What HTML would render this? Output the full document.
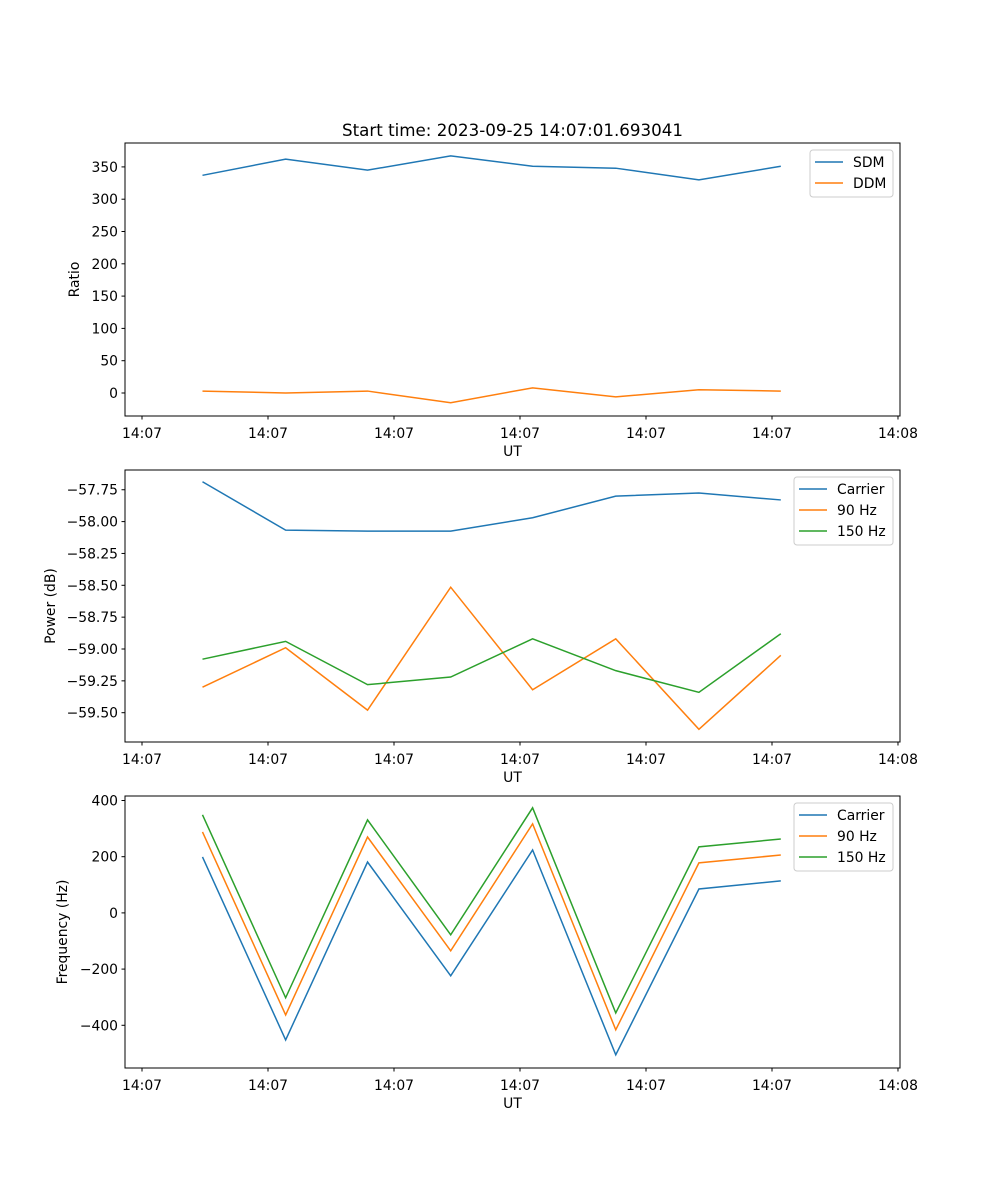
<!DOCTYPE html>
<html><head><meta charset="utf-8"><style>
body{margin:0;background:#fff}
svg{display:block;font-family:"DejaVu Sans","Liberation Sans",sans-serif}
</style></head><body>
<svg id="fig" width="1000" height="1200" viewBox="0 0 1000 1200"></svg>
<script>
const times = [4.8, 11.4, 17.9, 24.5, 31.0, 37.6, 44.2, 50.7];
const xTickVals = [0, 10, 20, 30, 40, 50, 60];
const xTickLabels = ["14:07","14:07","14:07","14:07","14:07","14:07","14:08"];
const sdm = [337, 362, 345, 367, 351, 348, 330, 351];
const ddm = [3, 0, 3, -15, 8, -6, 5, 3];
const ratioTicks = [0, 50, 100, 150, 200, 250, 300, 350];
const pwrCarrier = [-57.687, -58.067, -58.075, -58.075, -57.97, -57.80, -57.776, -57.83];
const pwr90 = [-59.30, -58.99, -59.48, -58.515, -59.32, -58.92, -59.63, -59.05];
const pwr150 = [-59.08, -58.94, -59.28, -59.22, -58.92, -59.17, -59.34, -58.88];
const pwrTicks = [-57.75, -58.00, -58.25, -58.50, -58.75, -59.00, -59.25, -59.50];
const frqCarrier = [199, -452, 181, -224, 224, -505, 85, 114];
const frq90 = [288, -363, 270, -135, 317, -416, 178, 206];
const frq150 = [349, -302, 331, -78, 374, -356, 235, 263];
const frqTicks = [400, 200, 0, -200, -400];

const NS = "http://www.w3.org/2000/svg";
const svg = document.getElementById('fig');
function mk(tag, attrs, parent){const e=document.createElementNS(NS,tag);for(const k in attrs)e.setAttribute(k,attrs[k]);(parent||svg).appendChild(e);return e;}
const C=['#1f77b4','#ff7f0e','#2ca02c'];
const L=125,R=900,xmin=-1.35,xmax=60.16;
const FS=13.9;
const xs=v=>L+(v-xmin)/(xmax-xmin)*(R-L);

function panel(name,top,bot,ymin,ymax,ticks,fmt,ylabel,ylabX,series,legend){
  const g=mk('g',{});
  
  
  const ys=v=>bot-(v-ymin)/(ymax-ymin)*(bot-top);
  series.forEach((s,i)=>{
    const p=mk('polyline',{points:times.map((t,j)=>xs(t)+','+ys(s.d[j])).join(' '),fill:'none',stroke:C[i],'stroke-width':1.5},g);
    
    
  });
  const fr=mk('rect',{x:L,y:top,width:R-L,height:bot-top,fill:'none',stroke:'#000','stroke-width':1},g);
  
  
  xTickVals.forEach((v,i)=>{
    const x=xs(v);
    mk('line',{x1:x,x2:x,y1:bot,y2:bot+3.5,stroke:'#000'},g);
    const t=mk('text',{x:x,y:bot+22,'text-anchor':'middle','font-size':FS},g);
    t.textContent=xTickLabels[i];
    
    
  });
  const xl=mk('text',{x:(L+R)/2,y:bot+40,'text-anchor':'middle','font-size':FS},g);
  xl.textContent='UT';
  
  
  ticks.forEach(v=>{
    const y=ys(v);
    mk('line',{x1:L-3.5,x2:L,y1:y,y2:y,stroke:'#000'},g);
    const t=mk('text',{x:L-7,y:y+5,'text-anchor':'end','font-size':FS},g);
    t.textContent=fmt(v);
    
    
  });
  const cy=(top+bot)/2;
  const yl=mk('text',{x:ylabX,y:cy,'text-anchor':'middle','font-size':FS,transform:`rotate(-90 ${ylabX} ${cy})`},g);
  yl.textContent=ylabel;
  
  
  const lg=mk('g',{},g);
  
  
  mk('rect',{x:legend.x,y:top+7,width:893-legend.x,height:series.length*21+5,rx:3,fill:'#fff',stroke:'#ccc','fill-opacity':0.8},lg);
  series.forEach((s,i)=>{
    const y=top+19+i*21;
    mk('line',{x1:legend.x+5,x2:legend.x+33,y1:y,y2:y,stroke:C[i],'stroke-width':1.5},lg);
    const t=mk('text',{x:legend.x+43,y:y+5,'font-size':FS},lg);
    t.textContent=s.label;
    
    
  });
}
const neg=s=>s.replace('-','\u2212');
panel('ratio',143,416,-35.6,387,ratioTicks,v=>neg(String(v)),'Ratio',79,
  [{key:'sdm',label:'SDM',d:sdm},{key:'ddm',label:'DDM',d:ddm}],{x:810});
panel('power',470,742,-59.73,-57.595,pwrTicks,v=>neg(v.toFixed(2)),'Power (dB)',55,
  [{key:'carrier',label:'Carrier',d:pwrCarrier},{key:'90hz',label:'90 Hz',d:pwr90},{key:'150hz',label:'150 Hz',d:pwr150}],{x:794});
panel('frequency',796,1068,-552,416,frqTicks,v=>neg(String(v)),'Frequency (Hz)',67,
  [{key:'carrier',label:'Carrier',d:frqCarrier},{key:'90hz',label:'90 Hz',d:frq90},{key:'150hz',label:'150 Hz',d:frq150}],{x:794});
const tt=mk('text',{x:512.5,y:136,'text-anchor':'middle','font-size':16.7});
tt.textContent='Start time: 2023-09-25 14:07:01.693041';


</script>
</body></html>
